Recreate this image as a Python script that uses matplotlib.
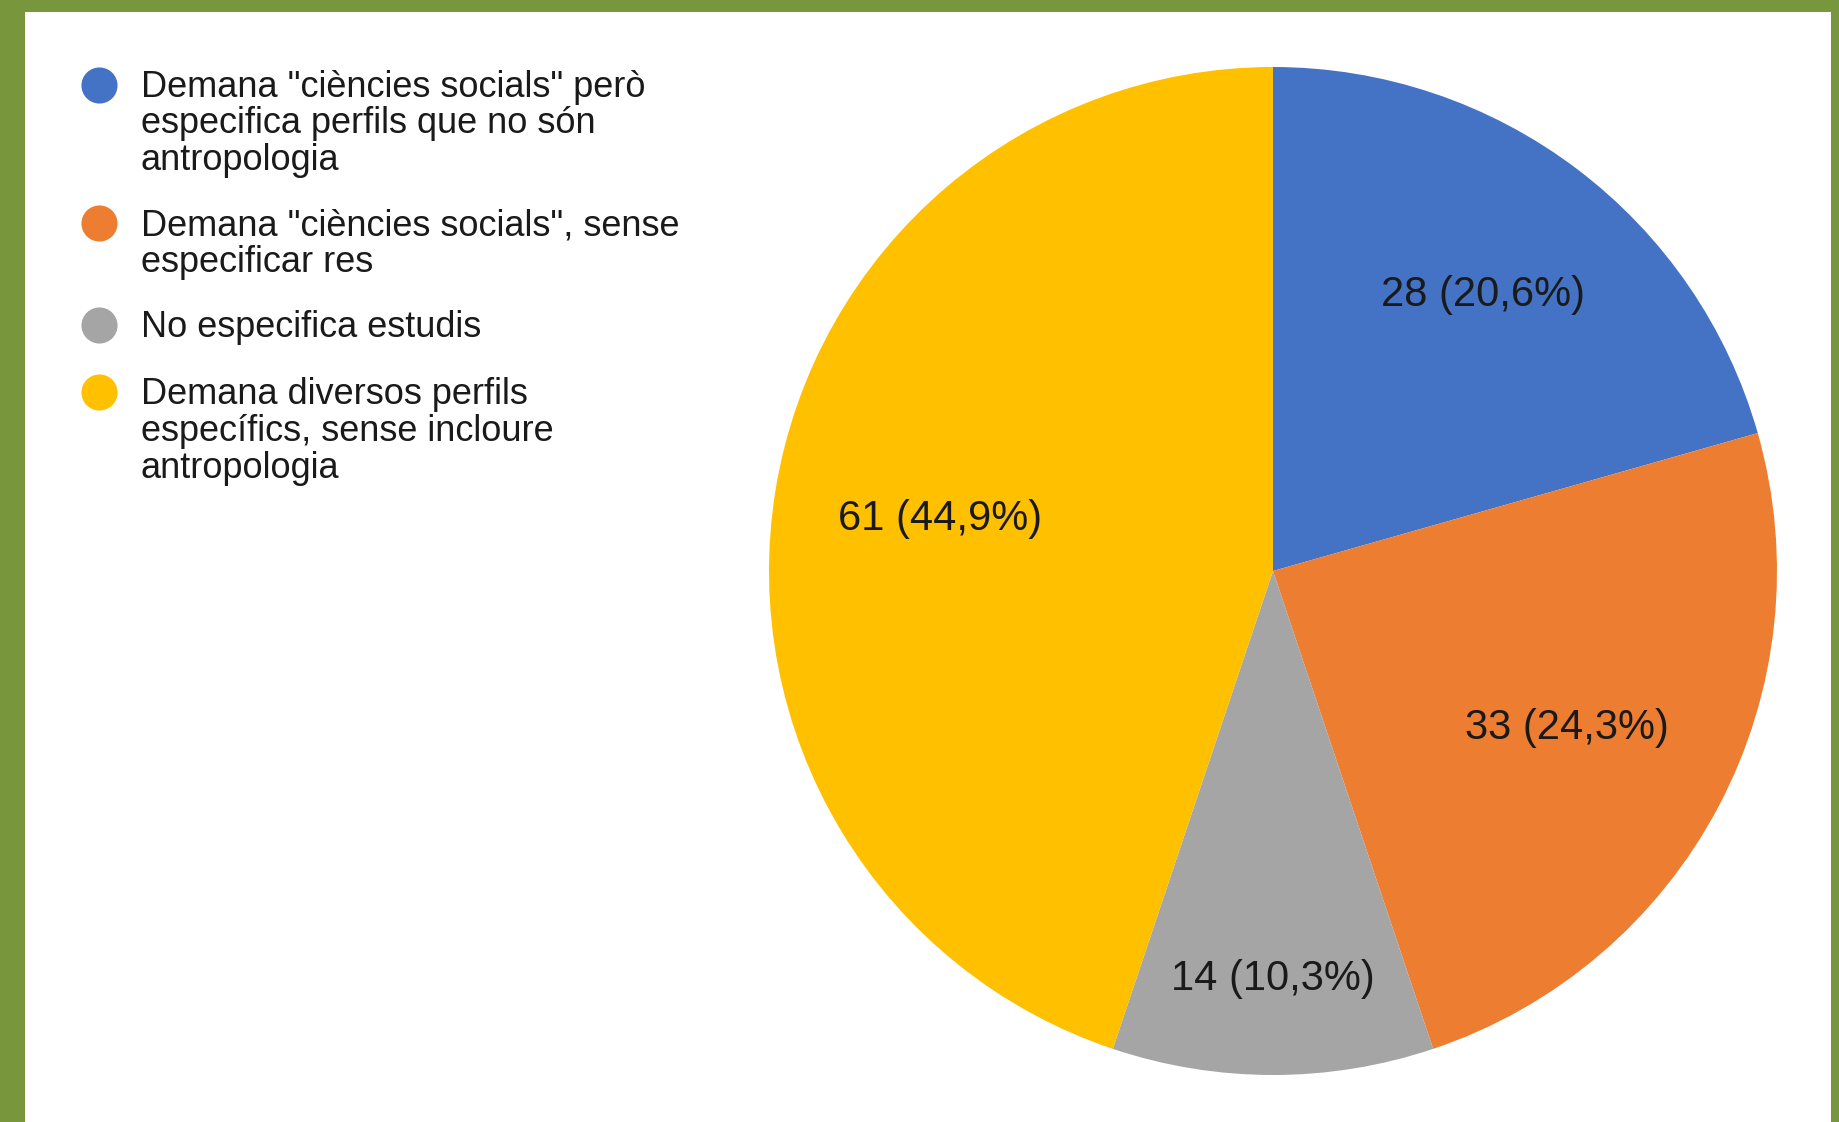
import matplotlib
matplotlib.use("Agg")
import matplotlib.pyplot as plt
import numpy as np

plt.rcParams['font.family'] = ['Liberation Sans', 'DejaVu Sans']

categories = [
    'Demana "ciències socials" però\nespecifica perfils que no són\nantropologia',
    'Demana "ciències socials", sense\nespecificar res',
    'No especifica estudis',
    'Demana diversos perfils\nespecífics, sense incloure\nantropologia',
]
values = [28, 33, 14, 61]
colors = ['#4472C4', '#ED7D31', '#A5A5A5', '#FFC000']
label_dist = [0.69, 0.66, 0.805, 0.67]

W, H = 1840, 1122
fig = plt.figure(figsize=(W / 100, H / 100), dpi=100)
fig.patch.set_facecolor('#78963c')

# white panel
bg = fig.add_axes([25 / W, 0, (1831 - 25) / W, (H - 12) / H])
bg.set_facecolor('white')
bg.set_xticks([])
bg.set_yticks([])
for s in bg.spines.values():
    s.set_visible(False)

# pie axes
cx, cy, r = 1273, 571, 504
ax = fig.add_axes([(cx - r) / W, (H - cy - r) / H, 2 * r / W, 2 * r / H])
ax.set_facecolor('none')
wedges, _ = ax.pie(values, colors=colors, startangle=90, counterclock=False,
                   radius=1.0, wedgeprops=dict(linewidth=0))
ax.set_xlim(-1, 1)
ax.set_ylim(-1, 1)
ax.set_aspect('equal')
ax.axis('off')

total = sum(values)
for w, v, d in zip(wedges, values, label_dist):
    mid = np.deg2rad((w.theta1 + w.theta2) / 2)
    txt = f"{v} ({v / total * 100:.1f}%)".replace('.', ',')
    ax.text(d * np.cos(mid), d * np.sin(mid) - 0.004, txt, ha='center', va='center',
            fontsize=30, color='#1a1a1a')

# legend (overlay in pixel coordinates)
lax = fig.add_axes([0, 0, 1, 1])
lax.set_xlim(0, W)
lax.set_ylim(H, 0)
lax.axis('off')
lax.set_facecolor('none')
entry_y = [84.5, 223, 325, 392]
for lab, col, y in zip(categories, colors, entry_y):
    lax.plot([98.6], [y], 'o', markersize=26, color=col, markeredgewidth=0)
    lax.text(141, y - 15, lab, ha='left', va='top', fontsize=26,
             color='#1a1a1a', linespacing=1.07)

fig.savefig('out.png', dpi=100, facecolor=fig.get_facecolor())
